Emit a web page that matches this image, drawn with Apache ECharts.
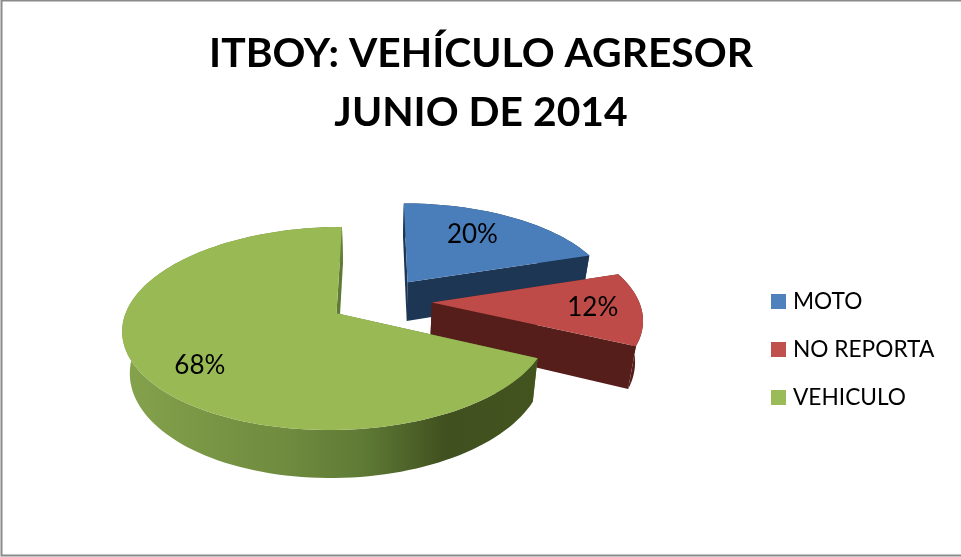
<!DOCTYPE html>
<html>
<head>
<meta charset="utf-8">
<style>
  html, body { margin: 0; padding: 0; background: #fff; overflow: hidden; }
  #myPieChart { width: 961px; height: 557px; }
</style>
</head>
<body>
<div id="myPieChart"></div>
<script src="https://cdn.jsdelivr.net/npm/echarts@6/dist/echarts.min.js"></script>
<script>
const categories = ["MOTO", "NO REPORTA", "VEHICULO"];
const percentages = [20, 12, 68];
const titleLines = ["ITBOY: VEHÍCULO AGRESOR", "JUNIO DE 2014"];

const topColors = ["#4A7EBB", "#BE4B48", "#98B954"];
const legendColors = ["#4F81BD", "#C0504D", "#9BBB59"];
const sideColors = ["#1C3654", "#561E1B", "#5F7A35"];

// how far each slice is pulled out of the pie, in radii
const explodes = [0.25, 0.26, 0.233];

// where each label sits inside its slice: share of the sweep, share of the radius
const labelSweep = [0.44, 0.495, 0.471];
const labelRadius = [0.69, 0.77, 0.76];

// 3d look: perspective pie seen from above
const view = {
  x: 378,
  y: 301,
  radiusX: 207,
  radiusY: 95.6,
  perspective: 0.148,
  depth: 40,
  bottomScale: 0.97,
};

const total = percentages.reduce((a, b) => a + b, 0);

const project = (u, v, lower) => {
  const w = 1 - view.perspective * v;
  const sx = (view.radiusX * u) / w;
  const sy = (view.radiusY * v) / w;
  if (lower) {
    return [view.x + sx * view.bottomScale, view.y + sy + view.depth / w];
  }
  return [view.x + sx, view.y + sy];
};

const sliceAngles = (index) => {
  const before = percentages.slice(0, index).reduce((a, b) => a + b, 0);
  const start = (before / total) * Math.PI * 2;
  const end = ((before + percentages[index]) / total) * Math.PI * 2;
  return [start, end];
};

const renderSlice = (index) => (params, api) => {
  const [start, end] = sliceAngles(index);
  const middle = (start + end) / 2;
  const offU = explodes[index] * Math.sin(middle);
  const offV = -explodes[index] * Math.cos(middle);

  const rimPoint = (angle, lower) =>
    project(offU + Math.sin(angle), offV - Math.cos(angle), lower);
  const apex = (lower) => project(offU, offV, lower);

  const steps = Math.ceil((end - start) / (Math.PI / 90));
  const angles = [];
  for (let i = 0; i <= steps; i++) {
    angles.push(start + ((end - start) * i) / steps);
  }

  const upperRim = angles.map((a) => rimPoint(a, false));
  const lowerRim = angles.map((a) => rimPoint(a, true));

  const sideFill =
    index === 2
      ? new echarts.graphic.LinearGradient(0, 0, 1, 0, [
          { offset: 0, color: "#85A24C" },
          { offset: 0.4, color: "#6E8B3F" },
          { offset: 0.58, color: "#5F7A35" },
          { offset: 0.78, color: "#40501F" },
          { offset: 1, color: "#43541F" },
        ])
      : sideColors[index];

  const wall = (points, fill) => ({
    type: "polygon",
    shape: { points },
    style: { fill },
  });

  const labelAngle = start + (end - start) * labelSweep[index];
  const labelPos = project(
    offU + labelRadius[index] * Math.sin(labelAngle),
    offV - labelRadius[index] * Math.cos(labelAngle),
    false
  );

  return {
    type: "group",
    children: [
      wall(
        [apex(false), rimPoint(start, false), rimPoint(start, true), apex(true)],
        sideColors[index]
      ),
      wall(
        [apex(false), rimPoint(end, false), rimPoint(end, true), apex(true)],
        sideColors[index]
      ),
      wall(upperRim.concat(lowerRim.slice().reverse()), sideFill),
      wall([apex(false)].concat(upperRim), topColors[index]),
      {
        type: "text",
        x: labelPos[0],
        y: labelPos[1] + 1,
        style: {
          text: api.value(0) + "%",
          fill: "#000",
          font: "26px Lato, Carlito, sans-serif",
          align: "center",
          verticalAlign: "middle",
        },
      },
    ],
  };
};

const chart = echarts.init(document.getElementById("myPieChart"));

const option = {
  animation: false,
  backgroundColor: "#fff",
  title: {
    text: titleLines.join("\n"),
    left: 476,
    top: 19,
    textAlign: "center",
    textStyle: {
      fontFamily: "Lato, Carlito, sans-serif",
      fontWeight: "bold",
      fontSize: 40.8,
      lineHeight: 59,
      color: "#000",
    },
  },
  legend: {
    left: 766,
    top: 285,
    orient: "vertical",
    icon: "rect",
    itemWidth: 15,
    itemHeight: 15,
    itemGap: 25,
    selectedMode: false,
    data: categories,
    textStyle: {
      fontFamily: "Lato, Carlito, sans-serif",
      fontSize: 22.7,
      color: "#000",
      padding: [0, 0, 0, 2],
    },
  },
  graphic: [
    {
      type: "polyline",
      shape: { points: [[962, 0.5], [1.5, 0.5], [1.5, 555.5], [962, 555.5]] },
      style: { stroke: "#8A8A8A", lineWidth: 2, fill: null },
    },
  ],
  series: categories.map((name, index) => ({
    type: "custom",
    name,
    coordinateSystem: "none",
    silent: true,
    itemStyle: { color: legendColors[index] },
    renderItem: renderSlice(index),
    data: [percentages[index]],
  })),
};

chart.setOption(option);
</script>
</body>
</html>
